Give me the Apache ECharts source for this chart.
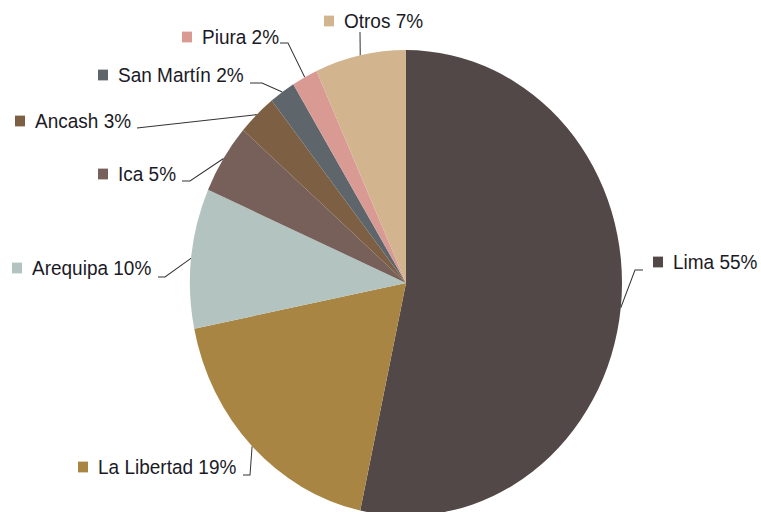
<!DOCTYPE html>
<html>
<head>
<meta charset="utf-8">
<script src="https://cdn.jsdelivr.net/npm/echarts@6/dist/echarts.min.js"></script>
<style>
html,body{margin:0;padding:0;background:#fff;overflow:hidden;width:761px;height:512px;}
#c{width:761px;height:482px;transform:scaleY(1.0779);transform-origin:0 0;}
</style>
</head>
<body>
<div id="c"></div>
<script>
// Data
const regions = ['Lima', 'La Libertad', 'Arequipa', 'Ica', 'Ancash', 'San Martín', 'Piura', 'Otros'];
const shares = [55, 19, 10, 5, 3, 2, 2, 7];

// Styles / layout
const colors = ['#524847', '#a88542', '#b3c3c0', '#776059', '#7d6043', '#5f666b', '#d99a94', '#d2b48e'];
const S = 512 / 475;
const labelAnchors = [[653, 262], [78, 467], [12, 268], [98, 174], [15, 121], [98, 75], [182, 37], [324, 21]];
const lineEnds = [
  [[635, 270], [643, 270]],
  [[250, 475], [243, 475]],
  [[165, 277], [158, 277]],
  [[190, 181], [182, 181]],
  [[137, 128], [137, 128]],
  [[262, 83], [250, 83]],
  [[288, 43], [280, 43]],
  [[360, 32], [360, 32]]
];

const rich = {
  g: { width: 10 },
  t: { fontFamily: 'Liberation Sans, Arial, sans-serif', fontSize: 19, color: '#1a1a26', verticalAlign: 'middle', lineHeight: 20 }
};
colors.forEach((c, i) => {
  rich['s' + i] = { width: 10, height: 10, backgroundColor: c, verticalAlign: 'middle' };
});

const chart = echarts.init(document.getElementById('c'), null, { renderer: 'svg' });
chart.setOption({
  animation: false,
  backgroundColor: '#fff',
  series: [{
    type: 'pie',
    center: [406, 262.5],
    radius: 216,
    startAngle: 90,
    clockwise: true,
    avoidLabelOverlap: false,
    data: regions.map((r, i) => ({ name: r, value: shares[i], itemStyle: { color: colors[i] } })),
    label: {
      show: true,
      position: 'outside',
      formatter: p => `{s${p.dataIndex}|}{g|}{t|${p.name} ${p.value}%}`,
      rich: rich
    },
    labelLine: {
      show: true,
      length: 10,
      length2: 10,
      smooth: false,
      lineStyle: { color: '#333', width: 1 }
    },
    labelLayout: function (p) {
      const i = p.dataIndex;
      const a = labelAnchors[i];
      const e = lineEnds[i];
      const res = { x: a[0], y: a[1] / S, align: 'left', verticalAlign: 'middle' };
      if (p.labelLinePoints && p.labelLinePoints[0]) {
        res.labelLinePoints = [p.labelLinePoints[0], [e[0][0], e[0][1] / S], [e[1][0], e[1][1] / S]];
      }
      return res;
    },
    emphasis: { disabled: true }
  }]
});
</script>
</body>
</html>
